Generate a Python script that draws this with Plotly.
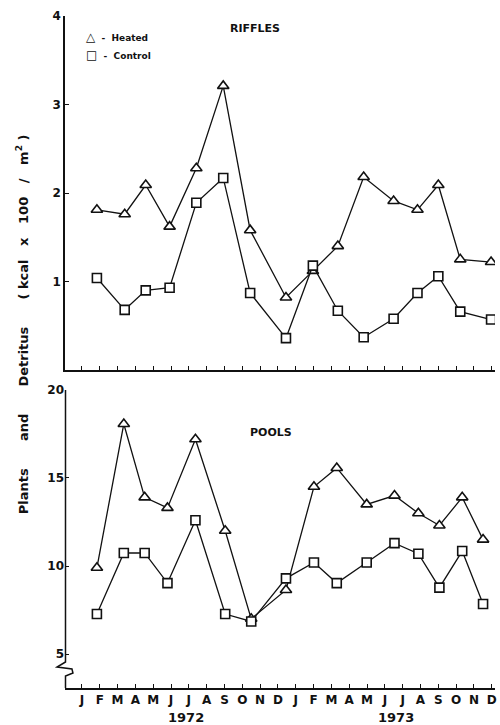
import plotly.graph_objects as go

# ---- data ----
months = ["J", "F", "M", "A", "M", "J", "J", "A", "S", "O", "N", "D"] * 2
month_pos = list(range(24))

# sample positions (month index, Jan 1972 = 0)
riffle_x = [0.84, 2.40, 3.58, 4.92, 6.42, 7.93, 9.44, 11.45, 12.96, 14.36,
            15.81, 17.49, 18.83, 20.0, 21.23, 22.96]
riffle_heated = [1.81, 1.76, 2.09, 1.62, 2.28, 3.21, 1.58, 0.82, 1.12, 1.40,
                 2.18, 1.91, 1.81, 2.09, 1.25, 1.22]
riffle_control = [1.04, 0.68, 0.90, 0.93, 1.89, 2.17, 0.87, 0.36, 1.18, 0.67,
                  0.37, 0.58, 0.87, 1.06, 0.66, 0.57]

pool_x = [0.84, 2.35, 3.52, 4.80, 6.37, 8.04, 9.50, 11.45, 13.02, 14.30,
          15.98, 17.54, 18.88, 20.06, 21.34, 22.51]
pool_heated = [9.9, 18.07, 13.9, 13.3, 17.2, 12.0, 7.0, 8.64, 14.5, 15.57,
               13.5, 14.0, 13.0, 12.3, 13.9, 11.5]
pool_control = [7.27, 10.74, 10.74, 9.03, 12.6, 7.27, 6.85, 9.3, 10.2, 9.03,
                10.2, 11.3, 10.7, 8.77, 10.85, 7.84]

FONT = "DejaVu Sans"
BLACK = "#111111"

fig = go.Figure()

def add_series(x, y, symbol, size, xa, ya):
    fig.add_trace(go.Scatter(
        x=x, y=y, mode="lines+markers", xaxis=xa, yaxis=ya,
        line=dict(color=BLACK, width=1.3),
        marker=dict(symbol=symbol, size=size, color="white",
                    line=dict(color=BLACK, width=1.6)),
        showlegend=False, hoverinfo="skip"))

add_series(riffle_x, riffle_heated, "triangle-up", 10, "x", "y")
add_series(riffle_x, riffle_control, "square", 9, "x", "y")
add_series(pool_x, pool_heated, "triangle-up", 10, "x2", "y2")
add_series(pool_x, pool_control, "square", 9, "x2", "y2")

xr = [-0.95, 23.18]
axis_common = dict(showgrid=False, zeroline=False, ticks="inside", ticklen=4,
                   tickwidth=1.2, tickcolor=BLACK, linecolor=BLACK, linewidth=1.5)

fig.update_layout(
    width=500, height=725,
    margin=dict(l=65, r=3, t=16, b=37),
    paper_bgcolor="white", plot_bgcolor="white",
    font=dict(family=FONT, color=BLACK),
    xaxis=dict(domain=[0, 1], range=xr, anchor="y", tickvals=month_pos,
               showticklabels=False, showline=True, **axis_common),
    yaxis=dict(domain=[0.4732, 1.0], range=[0, 4], anchor="x",
               tickvals=[1, 2, 3, 4], ticktext=["<b>1</b>", "<b>2</b>", "<b>3</b>", "<b>4</b>"],
               tickfont=dict(size=12, family=FONT), showline=True, **axis_common),
    xaxis2=dict(domain=[0, 1], range=xr, anchor="y2", tickvals=month_pos,
                ticktext=["<b>%s</b>" % m for m in months],
                tickfont=dict(size=12, family=FONT), showline=True, **axis_common),
    yaxis2=dict(domain=[0.0, 0.4435], range=[3.07, 20], anchor="x2",
                tickvals=[5, 10, 15, 20],
                ticktext=["<b>5</b>", "<b>10</b>", "<b>15</b>", "<b>20</b>"],
                tickfont=dict(size=12, family=FONT), showline=False,
                **axis_common),
)

# left axis line for pools with break (paper coordinates)
def px(xp):
    return (xp - 65) / 432.0

def py(yp):
    return (688 - yp) / 672.0

path = "M {},{} L {},{} L {},{} L {},{} L {},{} L {},{} L {},{}".format(
    px(65.5), py(390), px(65.5), py(662),
    px(57), py(667), px(72), py(669),
    px(73), py(673), px(65.5), py(676),
    px(65.5), py(688))
fig.add_shape(type="path", path=path, xref="paper", yref="paper",
              line=dict(color=BLACK, width=1.5))

ann = [
    dict(text="<b>RIFFLES</b>", x=px(256), y=py(28), size=11),
    dict(text="<b>POOLS</b>", x=px(272), y=py(432), size=11),
    dict(text="<b>1972</b>", x=px(187), y=py(717), size=13),
    dict(text="<b>1973</b>", x=px(398), y=py(717), size=13),
]
for a in ann:
    fig.add_annotation(text=a["text"], x=a["x"], y=a["y"], xref="paper", yref="paper",
                       showarrow=False, font=dict(size=a["size"], family=FONT, color=BLACK),
                       xanchor="center", yanchor="middle")

# legend
fig.add_annotation(text="<b><span style='font-size:12px'>△</span>  -  Heated</b>",
                   x=px(84), y=py(37), xref="paper", yref="paper",
                   showarrow=False, xanchor="left", yanchor="middle",
                   font=dict(size=9, family=FONT, color=BLACK))
fig.add_annotation(text="<b><span style='font-size:12px'>□</span>  -  Control</b>",
                   x=px(84), y=py(55), xref="paper", yref="paper",
                   showarrow=False, xanchor="left", yanchor="middle",
                   font=dict(size=9, family=FONT, color=BLACK))

# y axis title
sp = "\u00a0"
ylab = ("<b>Plants" + sp * 6 + "and" + sp * 6 + "Detritus" + sp * 6 + "(" + sp + "kcal" + sp * 3
        + "x" + sp * 3 + "100" + sp * 3 + "/" + sp * 3 + "m<sup>2</sup>" + sp + ")</b>")
fig.add_annotation(
    text=ylab,
    x=px(22), y=py(324), xref="paper", yref="paper", textangle=-90,
    showarrow=False, xanchor="center", yanchor="middle",
    font=dict(size=13, family=FONT, color=BLACK))

fig.write_html("out.html")
